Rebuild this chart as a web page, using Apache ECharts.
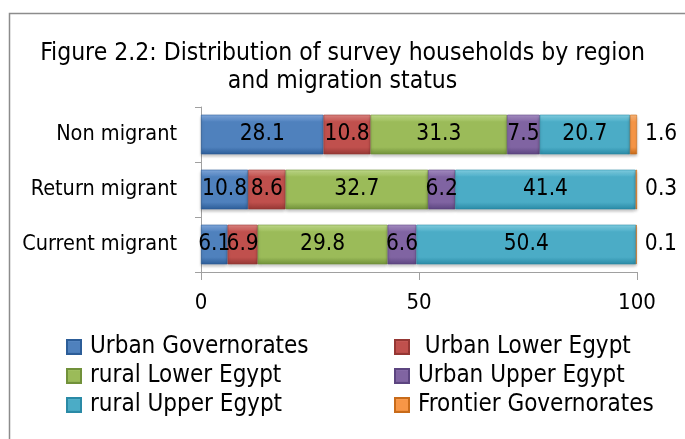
<!DOCTYPE html>
<html>
<head>
<meta charset="utf-8">
<script src="https://cdn.jsdelivr.net/npm/echarts@6/dist/echarts.min.js"></script>
<style>
html,body{margin:0;padding:0;background:#fff;}
#c{width:685px;height:439px;}
</style>
</head>
<body>
<div id="c"></div>
<script>
var categories = ['Current migrant', 'Return migrant', 'Non migrant'];
var seriesNames = ['Urban Governorates', ' Urban Lower Egypt', 'rural Lower Egypt', 'Urban Upper Egypt', 'rural Upper Egypt', 'Frontier Governorates'];
var urbanGov = [6.1, 10.8, 28.1];
var urbanLower = [6.9, 8.6, 10.8];
var ruralLower = [29.8, 32.7, 31.3];
var urbanUpper = [6.6, 6.2, 7.5];
var ruralUpper = [50.4, 41.4, 20.7];
var frontier = [0.1, 0.3, 1.6];
var xTicks = [0, 50, 100];

var FONT = '"DejaVu Sans Condensed", "Liberation Sans Narrow", "Noto Sans", sans-serif';
var colors = ['#4F81BD', '#C0504D', '#9BBB59', '#8064A2', '#4BACC6', '#F79646'];
var darks = ['#2C5D98', '#953734', '#71913A', '#5C4580', '#2A8AA6', '#C86B1A'];
var lights = ['#86AEE4', '#E48A86', '#C7E290', '#AC93CA', '#86D6EA', '#FFBB80'];

function grad(i) {
  return new echarts.graphic.LinearGradient(0, 0, 0, 1, [
    {offset: 0, color: lights[i]},
    {offset: 0.18, color: colors[i]},
    {offset: 0.82, color: colors[i]},
    {offset: 1, color: darks[i]}
  ]);
}

var dataSets = [urbanGov, urbanLower, ruralLower, urbanUpper, ruralUpper, frontier];
var series = dataSets.map(function (d, i) {
  return {
    name: seriesNames[i],
    type: 'bar',
    stack: 'total',
    barWidth: '72%',
    data: d,
    itemStyle: {
      color: grad(i), borderColor: darks[i], borderWidth: 0.6,
      shadowColor: 'rgba(0,0,0,0.25)', shadowBlur: 3, shadowOffsetY: 2
    },
    label: {
      show: true,
      position: i === 5 ? 'right' : 'inside',
      distance: 8,
      color: '#000',
      fontFamily: FONT,
      fontSize: 22.5,
      formatter: function (p) { return p.value.toFixed(1); }
    }
  };
});

var legendText = {fontFamily: FONT, fontSize: 24, color: '#000', lineHeight: 24, padding: [0, 0, 0, 4]};

var chart = echarts.init(document.getElementById('c'), null, {renderer: 'canvas'});
chart.setOption({
  animation: false,
  color: colors,
  graphic: [{
    type: 'rect',
    shape: {x: 9.5, y: 13.5, width: 700, height: 460},
    style: {fill: 'none', stroke: '#8c8c8c', lineWidth: 1.5},
    silent: true
  }],
  title: {
    text: 'Figure 2.2: Distribution of survey households by region\nand migration status',
    left: 'center',
    top: 40,
    padding: 0,
    textStyle: {fontFamily: FONT, fontSize: 24.5, fontWeight: 'normal', color: '#000', lineHeight: 28}
  },
  legend: [{
    data: [seriesNames[0], seriesNames[2], seriesNames[4]],
    orient: 'vertical',
    left: 66,
    top: 335,
    padding: 0,
    itemWidth: 14,
    itemHeight: 14,
    itemGap: 5,
    icon: 'rect',
    textStyle: legendText
  }, {
    data: [seriesNames[1], seriesNames[3], seriesNames[5]],
    orient: 'vertical',
    left: 394,
    top: 335,
    padding: 0,
    itemWidth: 14,
    itemHeight: 14,
    itemGap: 5,
    icon: 'rect',
    textStyle: legendText
  }],
  grid: {left: 201, right: 48, top: 107, bottom: 167, containLabel: false},
  xAxis: {
    type: 'value',
    min: xTicks[0],
    max: xTicks[xTicks.length - 1],
    interval: 50,
    splitLine: {show: false},
    axisLine: {show: true, lineStyle: {color: '#a0a0a0'}},
    axisTick: {show: true, length: 8, lineStyle: {color: '#a0a0a0'}},
    axisLabel: {fontFamily: FONT, fontSize: 22, color: '#000', margin: 20}
  },
  yAxis: {
    type: 'category',
    data: categories,
    axisLine: {show: true, lineStyle: {color: '#a0a0a0'}},
    axisTick: {show: true, length: 6, lineStyle: {color: '#a0a0a0'}},
    axisLabel: {fontFamily: FONT, fontSize: 21.5, color: '#000', margin: 24}
  },
  series: series
});
</script>
</body>
</html>
